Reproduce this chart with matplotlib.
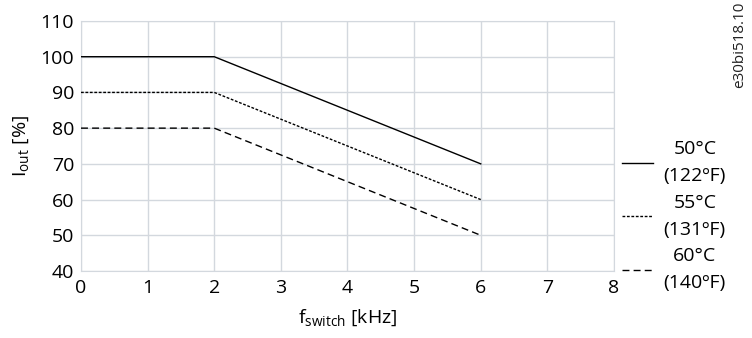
import matplotlib
matplotlib.use("Agg")
import matplotlib.pyplot as plt

plt.rcParams['font.family'] = ['Open Sans', 'DejaVu Sans']
plt.rcParams['mathtext.default'] = 'regular'

freq = [0, 2, 6]
curve_50 = [100, 100, 70]
curve_55 = [90, 90, 60]
curve_60 = [80, 80, 50]
labels = ["50°C\n(122ºF)", "55°C\n(131ºF)", "60°C\n(140ºF)"]
styles = ['-', (0, (2, 1.2)), (0, (5, 3))]
xticks = [0, 1, 2, 3, 4, 5, 6, 7, 8]
yticks = [40, 50, 60, 70, 80, 90, 100, 110]

FS = 14
fig = plt.figure(figsize=(7.52, 3.38), dpi=100)
ax = fig.add_axes([0.1077, 0.1982, 0.7088, 0.7397])
grid_c = '#d3d8de'
for y in yticks:
    ax.axhline(y, color=grid_c, lw=1.0, zorder=0)
for x in xticks:
    ax.axvline(x, color=grid_c, lw=1.0, zorder=0)

handles = []
for data, ls in zip([curve_50, curve_55, curve_60], styles):
    h, = ax.plot(freq, data, color='black', lw=1.0, linestyle=ls, zorder=3)
    handles.append(h)

ax.set_xlim(0, 8)
ax.set_ylim(40, 110)
ax.set_xticks(xticks)
ax.set_yticks(yticks)
ax.tick_params(axis='y', length=0, labelsize=FS, pad=5)
ax.tick_params(axis='x', length=0, labelsize=FS, pad=6)
for s in ax.spines.values():
    s.set_color(grid_c)
ax.set_xlabel('f$_{switch}$ [kHz]', fontsize=FS, labelpad=7)
ax.set_ylabel('I$_{out}$ [%]', fontsize=FS, labelpad=7)

leg = fig.legend(handles, labels, loc='upper left', bbox_to_anchor=(0.827, 0.585),
                 frameon=False, fontsize=FS, handlelength=1.6, handletextpad=0.55,
                 labelspacing=0.45, borderpad=0, borderaxespad=0)
for t in leg.get_texts():
    t.set_ha('center')
    t.set_multialignment('center')
    t.set_linespacing(1.63)

fig.text(0.983, 0.995, 'e30bi518.10', rotation=90, fontsize=11, ha='center', va='top', color='#222222')

fig.savefig('out.png', dpi=100)
